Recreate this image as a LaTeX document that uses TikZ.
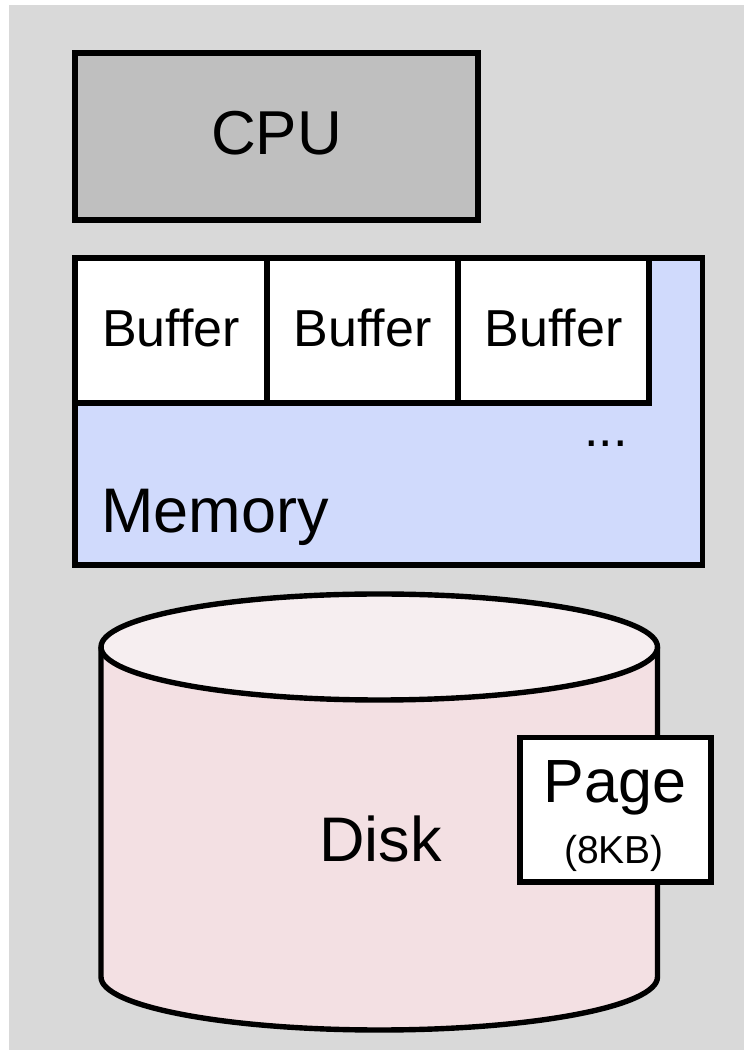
\documentclass[tikz,border=0pt]{standalone}
\usepackage{fontspec}
\setmainfont{Liberation Sans}[Ligatures=NoCommon]
\definecolor{panelgrey}{HTML}{D9D9D9}
\definecolor{cpugrey}{HTML}{BFBFBF}
\definecolor{memblue}{HTML}{D0DAFC}
\definecolor{diskside}{HTML}{F3E0E3}
\definecolor{disktop}{HTML}{F6EEF0}
\tikzset{
  x=1pt, y=1pt,
  outline/.style={draw=black, line width=5.4pt},
  block/.style={outline, rectangle, inner sep=0pt, outer sep=0pt, anchor=south west},
  lbl/.style={inner sep=0pt, anchor=base, text=black},
}
\newcommand{\fs}[1]{\fontsize{#1}{#1}\selectfont}
\begin{document}
\begin{tikzpicture}
  \useasboundingbox (0,0) rectangle (744,1050);
  % panel behind everything
  \fill[panelgrey] (9,0) rectangle (744,1045);

  % CPU
  \node[block, fill=cpugrey, minimum width=403pt, minimum height=167pt] (cpu) at (75,830) {};
  \node[lbl, font=\fs{62}] (cputxt) at (276.5,895) {CPU};

  % memory with its buffers
  \node[block, fill=memblue, minimum width=627.5pt, minimum height=307pt] (mem) at (75,485) {};
  \node[block, fill=white, minimum width=192pt, minimum height=145pt] (buf1) at (75,647) {};
  \node[block, fill=white, minimum width=191pt, minimum height=145pt] (buf2) at (267,647) {};
  \node[block, fill=white, minimum width=191pt, minimum height=145pt] (buf3) at (458,647) {};
  \node[lbl, font=\fs{52}] at (buf1.center |- 0,703.5) {Buffer};
  \node[lbl, font=\fs{52}] at (buf2.center |- 0,703.5) {Buffer};
  \node[lbl, font=\fs{52}] at (buf3.center |- 0,703.5) {Buffer};
  \node[lbl, font=\fs{52}] (dots) at (606,603) {...};
  \node[lbl, anchor=base west, font=\fs{63}] (memtxt) at (101,517) {Memory};

  % disk cylinder
  \path[fill=diskside, outline]
    (101,403) -- (101,73)
    arc[start angle=180, end angle=360, x radius=278.25, y radius=53]
    -- (657.5,403);
  \path[fill=disktop, outline] (379.25,403) ellipse[x radius=278.25, y radius=53];
  \node[lbl, font=\fs{63}] (disktxt) at (380.5,188) {Disk};

  % page on the disk
  \node[block, fill=white, minimum width=191pt, minimum height=144.5pt] (page) at (520,168) {};
  \node[lbl, font=\fs{61}] (pagetxt) at (615,247) {Page};
  \node[lbl, font=\fs{39}] (sizetxt) at (614,186) {(8KB)};
\end{tikzpicture}
\end{document}
